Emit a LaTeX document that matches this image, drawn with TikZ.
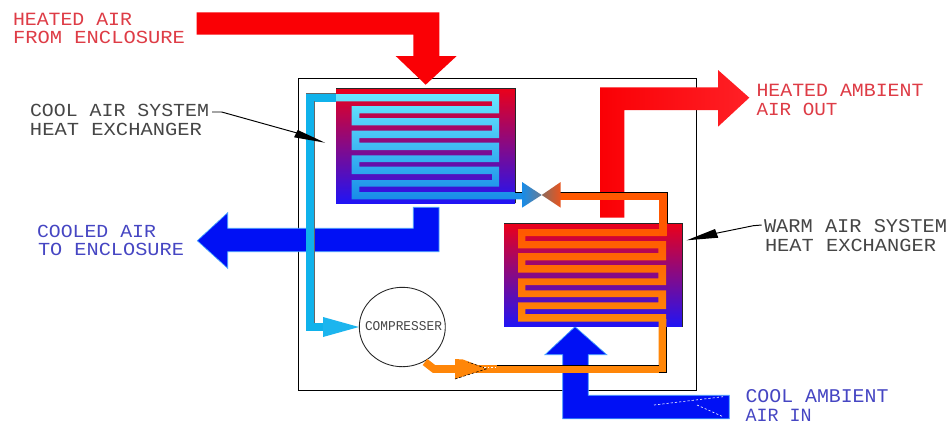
\documentclass[tikz,border=0pt]{standalone}
\usepackage{graphicx}
\usepackage{fontspec}
\usetikzlibrary{shapes.geometric}
\setmainfont{Liberation Mono}
\newdimen\ux \ux=0.02cm
\definecolor{lblred}{RGB}{222,60,70}
\definecolor{lblblue}{RGB}{70,70,195}
\definecolor{lblblack}{RGB}{70,70,70}
\definecolor{airred}{RGB}{250,0,5}
\definecolor{airlight}{RGB}{255,32,38}
\definecolor{airblue}{RGB}{0,16,245}
\definecolor{airedge}{RGB}{70,165,255}
\definecolor{hxred}{RGB}{235,0,25}
\definecolor{hxblue}{RGB}{32,20,245}
\definecolor{cyanpipe}{RGB}{16,178,235}
\definecolor{cyanhead}{RGB}{28,181,238}
\definecolor{coiltop}{RGB}{104,232,255}
\definecolor{coilbot}{RGB}{24,140,232}
\definecolor{orhot}{RGB}{255,88,0}
\definecolor{orpipe}{RGB}{255,134,8}
\definecolor{valvemidc}{RGB}{106,124,148}
\definecolor{valvemidh}{RGB}{140,106,92}
\definecolor{valvehot}{RGB}{235,85,30}
\newcommand{\lbl}[7]{\node[lblnode,text=#6] (#1) at (#2,#3) {\resizebox{#4\ux}{#5\ux}{#7}};}
\tikzset{
  x=0.02cm,y=-0.02cm,
  lblnode/.style={anchor=south west,inner sep=0pt,outer sep=0pt},
  frameline/.style={draw=black,line width=0.55pt},
  thin edge/.style={draw=black!85,line width=0.5pt},
  redair/.style={fill=airred,draw=none},
  blueair/.style={fill=airblue,draw=airedge,line width=0.4pt},
  hx/.style={top color=hxred,bottom color=hxblue},
  leader/.style={draw=black,line width=0.55pt},
  leadhead/.style={fill=black,draw=none},
  cyanline/.style={draw=cyanpipe,line width=4.35pt},
}
\begin{document}
\begin{tikzpicture}
\useasboundingbox[fill=white] (0,0) rectangle (950,423);
% cabinet frame
\draw[frameline] (298,78.3) rectangle (696,390);

% heated air in
\path[redair] (196.7,12.3) -- (439.3,12.3) -- (439.3,56) -- (456.7,56) -- (425.7,84.7) -- (395.7,56) -- (413.3,56) -- (413.3,34.7) -- (196.7,34.7) -- cycle;

% cooled air out
\path[blueair] (439,207.3) -- (439,251.7) -- (227.7,251.7) -- (227.7,268.3) -- (197.3,240.7) -- (227.7,212.7) -- (227.7,228.3) -- (413.3,228.3) -- (413.3,207.3) -- cycle;

% cool ambient air in
\path[blueair] (729.3,395.3) -- (729.3,418.8) -- (562.7,418.8) -- (562.7,354.7) -- (545,354.7) -- (575,326.7) -- (606.7,354.7) -- (588.3,354.7) -- (588.3,395.3) -- cycle;
\coordinate (dotA) at (654,405);
\coordinate (dotB) at (723,396.7);
\coordinate (dotC) at (697,405);
\coordinate (dotD) at (723,416.7);
\draw[white,line width=0.35pt,dash pattern=on 1.2pt off 1.2pt] (dotA) -- (dotB);
\draw[white,line width=0.35pt,dash pattern=on 1.2pt off 1.2pt] (dotC) -- (dotD);

% heated ambient air out
\shade[left color=airred,right color=airlight]
  (600,217.7) -- (600,87.3) -- (718,87.3) -- (718,70) -- (749.3,97.7) -- (718,126.7) -- (718,110) -- (624.3,110) -- (624.3,217.7) -- cycle;

% cool heat exchanger
\shade[hx] (336,88) rectangle (515,203);
\draw[thin edge] (336,88) -- (515,88) -- (515,203);
% warm heat exchanger
\shade[hx] (504,223.3) rectangle (682,326.7);
\draw[thin edge] (504,223.3) -- (682,223.3) -- (682,326.7);

% cool coil
\shade[top color=coiltop,bottom color=coilbot]
  (336,94) rectangle (499,101.3)
  (351.7,106) rectangle (499,113.3)
  (351.7,118) rectangle (499,125.3)
  (351.7,130.7) rectangle (499,138)
  (351.7,142.7) rectangle (499,150)
  (351.7,155.3) rectangle (499,162)
  (351.7,166.7) rectangle (499,174)
  (351.7,180) rectangle (499,186.7)
  (351.7,192) rectangle (523,199.3)
  (492,94) rectangle (499,113.3)
  (351.7,106) rectangle (359.3,125.3)
  (492,118) rectangle (499,138)
  (351.7,130.7) rectangle (359.3,150)
  (492,142.7) rectangle (499,162)
  (351.7,155.3) rectangle (359.3,174)
  (492,166.7) rectangle (499,186.7)
  (351.7,180) rectangle (359.3,199.3);

% warm coil
\shade[top color=orhot,bottom color=orpipe]
  (518,229) rectangle (666,236)
  (518,241) rectangle (666,248.3)
  (518,253) rectangle (666,260.3)
  (518,265) rectangle (666,272.7)
  (518,278.3) rectangle (666,285)
  (518,290.3) rectangle (666,297)
  (518,302.3) rectangle (666,309)
  (518,314) rectangle (666,321.7)
  (518,229) rectangle (525.3,248.3)
  (658.3,241) rectangle (666,260.3)
  (518,253) rectangle (525.3,272.7)
  (658.3,265) rectangle (666,285)
  (518,278.3) rectangle (525.3,297)
  (658.3,290.3) rectangle (666,309)
  (518,302.3) rectangle (525.3,321.7);

% cool suction pipe
\node[draw=black!85,line width=0.5pt,ellipse,minimum width=86\ux,minimum height=79.4\ux,inner sep=0pt,fill=white] (comp) at (402.3,327) {};
\draw[cyanline,line join=miter] (336,97.7) -- (309.9,97.7) -- (309.9,326.7) -- (330,326.7);
\draw[black!60,line width=0.4pt] (306,93.3) -- (336,93.3);
\draw[black!60,line width=0.4pt] (314,101.3) -- (314,322.5);
\path[fill=cyanhead] (323,317) -- (comp.west) -- (323,337) -- cycle;

% warm discharge pipe
\coordinate (cexit) at (425,362);
\draw[draw=orpipe,line width=4.35pt,line join=miter] (cexit) -- (434,369) -- (662.5,369) -- (662.5,319);
\path[fill=orpipe] (455,359) -- (463,359.5) -- (487,368.7) -- (455,379) -- cycle;
\draw[black,line width=0.3pt,dash pattern=on 1.5pt off 1pt] (455,379) -- (487,368.7) -- (468,362);
\draw[black,line width=0.4pt] (497,365) -- (659,365);
\draw[black,line width=0.4pt] (666.8,326.7) -- (666.8,372.8) -- (659,372.8);
\draw[white,line width=0.5pt,dash pattern=on 1pt off 1pt] (484,367.5) -- (497,367.5);

% hot pipe from valve into warm coil
\draw[orhot,line width=4.35pt,line join=miter] (556,195.7) -- (662.7,195.7) -- (662.7,236);
\draw[black,line width=0.4pt] (560,192) -- (667,192) -- (667,223.3);

% expansion valve
\draw[black,line width=0.4pt] (515,192) -- (523,192);
\shade[left color=coilbot,right color=valvemidc] (522,182) -- (541.7,195) -- (522,207.7) -- cycle;
\shade[left color=valvemidh,right color=valvehot] (541.7,195) -- (560.7,182) -- (560.7,207.7) -- cycle;

% leaders
\coordinate (coolA) at (212,112);
\coordinate (coolB) at (221.7,112);
\coordinate (coolC) at (297,133);
\coordinate (warmA) at (761.7,225);
\coordinate (warmB) at (753.3,225.7);
\coordinate (warmC) at (716,233.3);
\draw[leader] (coolA) -- (coolB) -- (coolC);
\path[leadhead] (297.7,130) -- (325,142.7) -- (294,137.3) -- cycle;
\draw[leader] (warmA) -- (warmB) -- (warmC);
\path[leadhead] (715,229) -- (686.7,240.3) -- (718.3,237.7) -- cycle;

% labels
\lbl{a1}{13}{25}{119}{12.3}{lblred}{HEATED AIR}
\lbl{a2}{13}{44}{172}{12.3}{lblred}{FROM ENCLOSURE}
\lbl{b1}{30}{116.7}{179}{12.3}{lblblack}{COOL AIR SYSTEM}
\lbl{b2}{30}{135.7}{172}{12.3}{lblblack}{HEAT EXCHANGER}
\lbl{c1}{756.5}{96.7}{167}{12.3}{lblred}{HEATED AMBIENT}
\lbl{c2}{756.5}{116}{81}{12.3}{lblred}{AIR OUT}
\lbl{d1}{37}{237.3}{119}{12.3}{lblblue}{COOLED AIR}
\lbl{d2}{38}{256}{146}{12.3}{lblblue}{TO ENCLOSURE}
\lbl{e1}{764}{233}{183}{13}{lblblack}{WARM AIR SYSTEM}
\lbl{e2}{765}{251.7}{171}{12.3}{lblblack}{HEAT EXCHANGER}
\lbl{f1}{745.5}{403}{143}{13}{lblblue}{COOL AMBIENT}
\lbl{f2}{745.5}{421}{66}{12.3}{lblblue}{AIR IN}
\lbl{g1}{365}{330.7}{77}{9}{lblblack}{COMPRESSER}
\end{tikzpicture}
\end{document}
